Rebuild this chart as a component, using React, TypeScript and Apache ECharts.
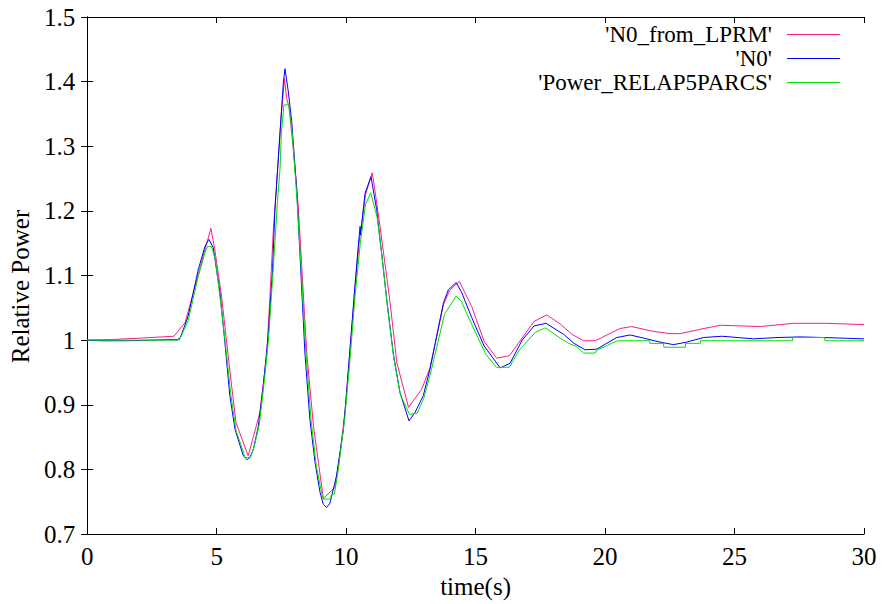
import React, { useEffect, useRef } from "react";
import * as echarts from "echarts";

const seriesNames = ["'N0_from_LPRM'", "'N0'", "'Power_RELAP5PARCS'"];
const xTicks = [0, 5, 10, 15, 20, 25, 30];
const yTicks = [0.7, 0.8, 0.9, 1.0, 1.1, 1.2, 1.3, 1.4, 1.5];

const lprmTime = [0, 1.0, 2.0, 3.35, 3.78, 4.1, 4.48, 4.78, 4.93, 5.19, 5.39, 5.58, 5.75, 6.22, 6.67, 6.93, 7.06, 7.19, 7.35, 7.5, 7.62, 7.7, 7.8, 7.95, 8.15, 8.29, 8.48, 8.74, 8.93, 9.12, 9.57, 9.75, 9.96, 10.15, 10.34, 10.5, 10.75, 11.01, 11.1, 11.31, 11.7, 11.96, 12.41, 12.92, 13.24, 13.76, 14.0, 14.37, 14.85, 15.33, 15.82, 16.31, 17.26, 17.75, 18.27, 18.72, 19.17, 19.62, 20.58, 21.03, 21.8, 22.51, 22.9, 23.7, 24.45, 26.0, 27.28, 28.57, 30];
const lprmValue = [1.0, 1.001, 1.003, 1.006, 1.027, 1.073, 1.13, 1.173, 1.14, 1.068, 0.996, 0.929, 0.872, 0.821, 0.888, 0.975, 1.068, 1.17, 1.26, 1.35, 1.405, 1.375, 1.36, 1.3, 1.208, 1.112, 0.98, 0.867, 0.811, 0.755, 0.772, 0.82, 0.89, 0.985, 1.08, 1.15, 1.225, 1.259, 1.235, 1.176, 1.058, 0.965, 0.896, 0.924, 0.957, 1.055, 1.077, 1.091, 1.052, 0.998, 0.972, 0.976, 1.029, 1.039, 1.025, 1.009, 0.999, 0.999, 1.018, 1.021, 1.014, 1.01, 1.01, 1.017, 1.023, 1.021, 1.026, 1.026, 1.024];

const n0Time = [0, 0.5, 1.5, 2.5, 3.5, 3.6, 3.9, 4.29, 4.55, 4.7, 4.87, 5.13, 5.32, 5.51, 5.71, 6.03, 6.18, 6.29, 6.42, 6.61, 6.8, 6.99, 7.16, 7.25, 7.45, 7.58, 7.64, 7.77, 7.9, 8.09, 8.22, 8.41, 8.6, 8.8, 8.99, 9.12, 9.25, 9.38, 9.63, 9.89, 10.0, 10.15, 10.34, 10.47, 10.54, 10.56, 10.73, 10.96, 11.18, 11.37, 11.57, 11.82, 12.08, 12.43, 12.66, 12.98, 13.24, 13.76, 13.95, 14.25, 14.45, 14.85, 15.33, 15.95, 16.33, 16.8, 17.26, 17.72, 18.4, 18.8, 19.23, 19.68, 20.45, 20.97, 21.5, 22.12, 22.64, 23.16, 23.8, 24.51, 25.74, 26.64, 27.54, 28.44, 30];
const n0Value = [1.0, 0.999, 0.999, 1.0, 1.001, 1.004, 1.037, 1.109, 1.145, 1.156, 1.143, 1.073, 0.996, 0.914, 0.862, 0.821, 0.815, 0.819, 0.831, 0.867, 0.929, 1.006, 1.109, 1.2, 1.323, 1.4, 1.42, 1.384, 1.338, 1.235, 1.132, 0.98, 0.878, 0.811, 0.765, 0.746, 0.741, 0.748, 0.79, 0.86, 0.91, 0.985, 1.083, 1.145, 1.176, 1.163, 1.227, 1.253, 1.202, 1.135, 1.063, 0.98, 0.919, 0.875, 0.888, 0.914, 0.955, 1.058, 1.078, 1.089, 1.075, 1.035, 0.991, 0.957, 0.964, 1.0, 1.022, 1.026, 1.009, 0.995, 0.985, 0.986, 1.004, 1.008, 1.003, 0.997, 0.993, 0.997, 1.004, 1.006, 1.002, 1.004, 1.005, 1.004, 1.002];

const parcsTime = [0, 3.56, 3.9, 4.3, 4.55, 4.65, 4.8, 4.95, 5.15, 5.35, 5.55, 5.75, 6.05, 6.1, 6.3, 6.45, 6.65, 6.85, 7.0, 7.17, 7.34, 7.45, 7.5, 7.6, 7.78, 7.92, 8.1, 8.25, 8.45, 8.65, 8.85, 9.05, 9.12, 9.4, 9.42, 9.55, 9.7, 9.95, 10.15, 10.35, 10.55, 10.75, 10.95, 11.2, 11.4, 11.6, 11.85, 12.1, 12.45, 12.75, 13.0, 13.3, 13.8, 14.25, 14.45, 14.9, 15.4, 15.8, 16.3, 16.7, 17.3, 17.7, 18.27, 18.6, 18.9, 19.17, 19.62, 19.7, 20.0, 20.3, 20.5, 21.72, 21.73, 22.26, 22.27, 23.1, 23.11, 23.68, 23.69, 27.24, 27.25, 28.48, 28.49, 30];
const parcsValue = [1.0, 1.0, 1.03, 1.1, 1.135, 1.145, 1.145, 1.125, 1.06, 0.99, 0.915, 0.86, 0.825, 0.818, 0.818, 0.835, 0.87, 0.94, 1.0, 1.1, 1.209, 1.266, 1.32, 1.364, 1.364, 1.32, 1.22, 1.12, 0.98, 0.875, 0.805, 0.765, 0.754, 0.754, 0.76, 0.762, 0.8, 0.88, 0.97, 1.07, 1.15, 1.21, 1.228, 1.19, 1.125, 1.05, 0.97, 0.915, 0.885, 0.887, 0.91, 0.955, 1.04, 1.068, 1.06, 1.02, 0.978, 0.958, 0.958, 0.985, 1.012, 1.019, 1.003, 0.995, 0.99, 0.98, 0.98, 0.985, 0.99, 0.996, 0.999, 0.999, 0.995, 0.995, 0.989, 0.989, 0.995, 0.995, 0.999, 0.999, 1.004, 1.004, 0.999, 0.999];

const colors = ["#ff1a8c", "#0000ff", "#00e000"];
const FONT = "Liberation Serif";

function pairs(t: number[], v: number[]) {
  return t.map((x, i) => [x, v[i]]);
}

export default function App() {
  const ref = useRef<HTMLDivElement>(null);
  useEffect(() => {
    if (!ref.current) return;
    const chart = echarts.init(ref.current, null, { renderer: "svg" });
    const axisLine = { show: true, lineStyle: { color: "#000", width: 1 } };
    const tickIn = { show: true, inside: true, length: 6, lineStyle: { color: "#000", width: 1 } };
    const labelStyle = { color: "#000", fontFamily: FONT, fontSize: 25 };
    const legendY = [34.5, 58.5, 82.5];
    const graphic: any[] = [];
    seriesNames.forEach((name, i) => {
      graphic.push({
        type: "text",
        x: 772,
        y: legendY[i],
        style: {
          text: name,
          fill: "#000",
          fontFamily: FONT,
          fontSize: 23,
          align: "right",
          verticalAlign: "middle",
        },
      });
      graphic.push({
        type: "line",
        shape: { x1: 787, y1: legendY[i], x2: 840, y2: legendY[i] },
        style: { stroke: colors[i], lineWidth: 1 },
      });
    });
    chart.setOption({
      animation: false,
      backgroundColor: "#fff",
      textStyle: { fontFamily: FONT },
      grid: { left: 87, right: 20, top: 17, bottom: 69, containLabel: false },
      xAxis: [
        {
          type: "value",
          min: xTicks[0],
          max: xTicks[xTicks.length - 1],
          interval: 5,
          position: "bottom",
          axisLine,
          axisTick: tickIn,
          splitLine: { show: false },
          axisLabel: { ...labelStyle, margin: 10 },
          name: "time(s)",
          nameLocation: "middle",
          nameGap: 40,
          nameTextStyle: labelStyle,
        },
        {
          type: "value",
          min: xTicks[0],
          max: xTicks[xTicks.length - 1],
          interval: 5,
          position: "top",
          axisLine,
          axisTick: tickIn,
          splitLine: { show: false },
          axisLabel: { show: false },
        },
      ],
      yAxis: [
        {
          type: "value",
          min: yTicks[0],
          max: yTicks[yTicks.length - 1],
          interval: 0.1,
          position: "left",
          axisLine,
          axisTick: tickIn,
          splitLine: { show: false },
          axisLabel: {
            ...labelStyle,
            margin: 12,
            formatter: (v: number) => String(Math.round(v * 10) / 10),
          },
          name: "Relative Power",
          nameLocation: "middle",
          nameGap: 50,
          nameRotate: 90,
          nameTextStyle: { ...labelStyle, padding: [0, 22, 0, 0] },
        },
        {
          type: "value",
          min: yTicks[0],
          max: yTicks[yTicks.length - 1],
          interval: 0.1,
          position: "right",
          axisLine,
          axisTick: tickIn,
          splitLine: { show: false },
          axisLabel: { show: false },
        },
      ],
      series: [
        { name: seriesNames[0], type: "line", data: pairs(lprmTime, lprmValue), showSymbol: false, lineStyle: { color: colors[0], width: 1 }, itemStyle: { color: colors[0] }, z: 3 },
        { name: seriesNames[1], type: "line", data: pairs(n0Time, n0Value), showSymbol: false, lineStyle: { color: colors[1], width: 1 }, itemStyle: { color: colors[1] }, z: 4 },
        { name: seriesNames[2], type: "line", data: pairs(parcsTime, parcsValue), showSymbol: false, lineStyle: { color: colors[2], width: 1 }, itemStyle: { color: colors[2] }, z: 5 },
      ],
      graphic,
    });
    return () => chart.dispose();
  }, []);
  return <div ref={ref} style={{ width: 884, height: 604, position: "absolute", left: 0, top: 0 }} />;
}
